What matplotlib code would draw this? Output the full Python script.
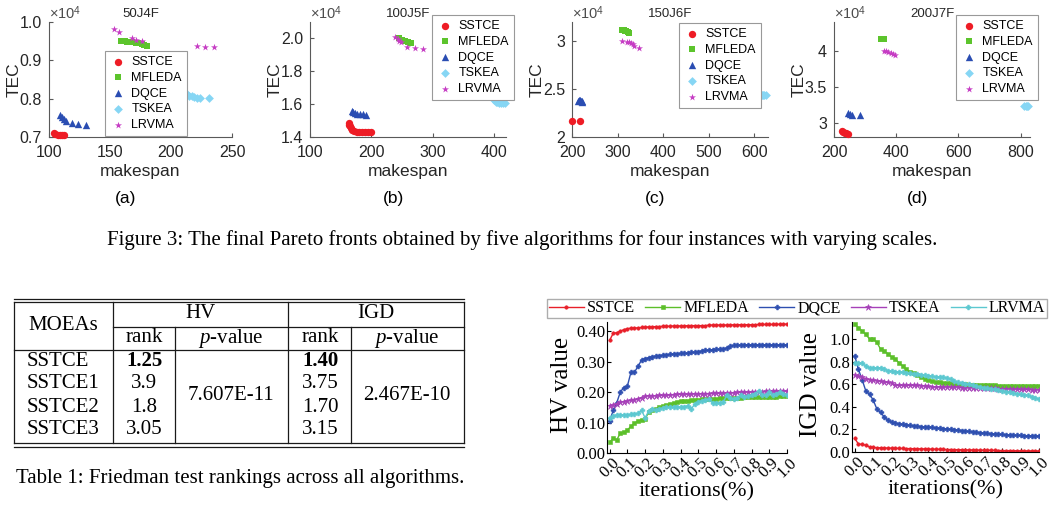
import numpy as np
import matplotlib.pyplot as plt
from matplotlib.lines import Line2D

plt.rcParams['mathtext.fontset'] = 'custom'
plt.rcParams['mathtext.rm'] = 'Liberation Sans'
plt.rcParams['mathtext.it'] = 'Liberation Serif:italic'

W, H = 1052, 514

# ---------------- Figure 3: final Pareto fronts (makespan, TEC) ----------------
algos = ["SSTCE", "MFLEDA", "DQCE", "TSKEA", "LRVMA"]
instances = ["50J4F", "100J5F", "150J6F", "200J7F"]
sub_tags = ["(a)", "(b)", "(c)", "(d)"]

a_sstce = [(104, 7110), (105, 7070), (107, 7050), (109, 7040), (111, 7040), (112, 7040)]
a_mfleda = [(159, 9510), (162, 9500), (164, 9490), (166, 9480), (168, 9470), (171, 9450),
            (173, 9440), (176, 9430), (178, 9400), (180, 9370)]
a_dqce = [(109, 7570), (111, 7530), (112, 7470), (114, 7410), (119, 7360), (124, 7350), (130, 7320)]
a_tskea = [(213, 8110), (215, 8080), (217, 8060), (219, 8040), (221, 8030), (224, 8030), (231, 8030)]
a_lrvma = [(153, 9820), (157, 9730), (168, 9580), (171, 9530), (176, 9500), (221, 9380),
           (228, 9360), (235, 9360)]

b_sstce = [(163, 14850), (164, 14750), (165, 14650), (167, 14550), (169, 14450), (172, 14350),
           (176, 14320), (180, 14300), (185, 14300), (190, 14300), (195, 14300), (199, 14300)]
b_mfleda = [(245, 20000), (250, 19900), (255, 19850), (260, 19800), (265, 19750)]
b_dqce = [(168, 15560), (170, 15500), (173, 15450), (177, 15420), (182, 15400), (187, 15400),
          (191, 15330)]
b_tskea = [(400, 16250), (403, 16150), (406, 16100), (409, 16080), (412, 16070), (415, 16060),
           (418, 16060)]
b_lrvma = [(239, 20100), (243, 19950), (246, 19850), (248, 19800), (258, 19450), (271, 19400),
           (284, 19370)]

c_sstce = [(201, 21700), (218, 21700)]
c_mfleda = [(310, 31200), (313, 31150), (316, 31100), (319, 31050), (322, 31000), (326, 30900)]
c_dqce = [(213, 23800), (215, 23850), (217, 23850), (219, 23800), (221, 23750), (223, 23700)]
c_tskea = [(610, 24400), (613, 24400), (616, 24400), (619, 24380), (622, 24380), (626, 24380)]
c_lrvma = [(309, 30000), (320, 29950), (326, 29950), (330, 29800), (333, 29700), (336, 29450),
           (346, 29280)]

d_sstce = [(225, 28800), (230, 28700), (235, 28600), (240, 28500), (245, 28450)]
d_mfleda = [(350, 41600), (355, 41600), (360, 41600)]
d_dqce = [(245, 31300), (250, 31200), (258, 31100), (285, 31050)]
d_tskea = [(812, 32300), (816, 32250), (820, 32250), (825, 32250)]
d_lrvma = [(360, 40000), (368, 39900), (375, 39800), (382, 39700), (390, 39600), (397, 39400)]

front_sets = [
    [a_sstce, a_mfleda, a_dqce, a_tskea, a_lrvma],
    [b_sstce, b_mfleda, b_dqce, b_tskea, b_lrvma],
    [c_sstce, c_mfleda, c_dqce, c_tskea, c_lrvma],
    [d_sstce, d_mfleda, d_dqce, d_tskea, d_lrvma],
]
x_limits = [(100, 250), (100, 420), (200, 630), (200, 830)]
y_limits = [(0.7, 1.0), (1.4, 2.1), (2.0, 3.2), (2.8, 4.4)]
x_ticks = [[100, 150, 200, 250], [100, 200, 300, 400], [200, 300, 400, 500, 600], [200, 400, 600, 800]]
y_ticks = [[0.7, 0.8, 0.9, 1.0], [1.4, 1.6, 1.8, 2.0], [2, 2.5, 3], [3, 3.5, 4]]
y_fmt = ["{:.1f}", "{:.1f}", "{:g}", "{:g}"]

# ---------------- Table 1: Friedman test ----------------
moeas = ["SSTCE", "SSTCE1", "SSTCE2", "SSTCE3"]
hv_rank = ["1.25", "3.9", "1.8", "3.05"]
igd_rank = ["1.40", "3.75", "1.70", "3.15"]
hv_p = "7.607E-11"
igd_p = "2.467E-10"

# ---------------- Convergence curves ----------------
iters = np.linspace(0, 1, 51)
line_names = ["SSTCE", "MFLEDA", "DQCE", "TSKEA", "LRVMA"]

hv_sstce = [0.370, 0.393, 0.395, 0.400, 0.405, 0.408, 0.410, 0.410, 0.411, 0.412, 0.413, 0.414,
            0.414, 0.415, 0.415, 0.416, 0.416, 0.416, 0.417, 0.417, 0.417, 0.417, 0.418, 0.418,
            0.418, 0.418, 0.418, 0.418, 0.420, 0.420, 0.420, 0.420, 0.420, 0.420, 0.420, 0.421,
            0.421, 0.421, 0.421, 0.421, 0.421, 0.421, 0.422, 0.422, 0.422, 0.422, 0.422, 0.422,
            0.423, 0.423, 0.423]
hv_mfleda = [0.035, 0.048, 0.043, 0.065, 0.068, 0.075, 0.088, 0.098, 0.105, 0.108, 0.110, 0.135,
             0.140, 0.145, 0.150, 0.153, 0.157, 0.160, 0.163, 0.168, 0.170, 0.172, 0.172, 0.173,
             0.174, 0.175, 0.176, 0.176, 0.177, 0.178, 0.178, 0.179, 0.180, 0.180, 0.181, 0.181,
             0.182, 0.182, 0.183, 0.183, 0.183, 0.184, 0.184, 0.184, 0.185, 0.185, 0.185, 0.185,
             0.186, 0.186, 0.186]
hv_dqce = [0.105, 0.140, 0.165, 0.200, 0.215, 0.220, 0.265, 0.265, 0.285, 0.305, 0.310, 0.313,
           0.316, 0.318, 0.320, 0.321, 0.322, 0.324, 0.325, 0.326, 0.327, 0.327, 0.328, 0.330,
           0.331, 0.333, 0.335, 0.337, 0.338, 0.339, 0.340, 0.340, 0.341, 0.345, 0.350, 0.353,
           0.354, 0.354, 0.355, 0.355, 0.355, 0.355, 0.355, 0.355, 0.355, 0.355, 0.355, 0.355,
           0.355, 0.355, 0.355]
hv_tskea = [0.155, 0.158, 0.162, 0.166, 0.169, 0.171, 0.173, 0.175, 0.178, 0.182, 0.186, 0.188,
            0.188, 0.188, 0.189, 0.189, 0.190, 0.190, 0.192, 0.193, 0.193, 0.193, 0.193, 0.194,
            0.194, 0.194, 0.195, 0.195, 0.195, 0.196, 0.196, 0.196, 0.197, 0.197, 0.198, 0.198,
            0.199, 0.199, 0.200, 0.200, 0.200, 0.201, 0.201, 0.201, 0.202, 0.202, 0.202, 0.202,
            0.203, 0.203, 0.203]
hv_lrvma = [0.115, 0.122, 0.125, 0.125, 0.125, 0.125, 0.127, 0.128, 0.130, 0.140, 0.115, 0.138,
            0.145, 0.140, 0.143, 0.148, 0.150, 0.150, 0.150, 0.152, 0.150, 0.152, 0.155, 0.145,
            0.160, 0.168, 0.172, 0.175, 0.176, 0.165, 0.165, 0.165, 0.166, 0.190, 0.180, 0.178,
            0.182, 0.190, 0.185, 0.188, 0.190, 0.195, 0.205, 0.190, 0.192, 0.200, 0.190, 0.195,
            0.200, 0.195, 0.190]

igd_sstce = [0.120, 0.070, 0.068, 0.060, 0.045, 0.040, 0.038, 0.037, 0.036, 0.035, 0.034, 0.033,
             0.032, 0.031, 0.030, 0.030, 0.029, 0.028, 0.028, 0.027, 0.026, 0.025, 0.025, 0.024,
             0.023, 0.022, 0.022, 0.021, 0.020, 0.020, 0.019, 0.018, 0.018, 0.017, 0.016, 0.016,
             0.015, 0.015, 0.014, 0.013, 0.013, 0.012, 0.012, 0.011, 0.011, 0.010, 0.010, 0.010,
             0.009, 0.009, 0.009]
igd_mfleda = [1.13, 1.10, 1.07, 1.04, 1.00, 1.00, 0.97, 0.91, 0.89, 0.87, 0.84, 0.82, 0.79, 0.76,
              0.73, 0.71, 0.70, 0.68, 0.66, 0.65, 0.64, 0.63, 0.62, 0.615, 0.612, 0.61, 0.607,
              0.605, 0.603, 0.600, 0.598, 0.596, 0.595, 0.594, 0.593, 0.592, 0.591, 0.590, 0.589,
              0.588, 0.587, 0.586, 0.585, 0.585, 0.584, 0.584, 0.583, 0.583, 0.582, 0.582, 0.582]
igd_dqce = [0.85, 0.73, 0.64, 0.54, 0.51, 0.46, 0.38, 0.35, 0.31, 0.28, 0.265, 0.255, 0.250,
            0.245, 0.240, 0.235, 0.232, 0.228, 0.225, 0.222, 0.220, 0.217, 0.214, 0.210, 0.207,
            0.205, 0.200, 0.197, 0.193, 0.190, 0.186, 0.182, 0.178, 0.175, 0.171, 0.168, 0.165,
            0.162, 0.160, 0.157, 0.155, 0.153, 0.151, 0.149, 0.147, 0.146, 0.145, 0.144, 0.143,
            0.142, 0.142]
igd_tskea = [0.68, 0.67, 0.66, 0.65, 0.64, 0.635, 0.63, 0.625, 0.62, 0.615, 0.61, 0.59, 0.59,
             0.59, 0.59, 0.59, 0.59, 0.59, 0.585, 0.585, 0.58, 0.575, 0.575, 0.575, 0.575, 0.575,
             0.575, 0.575, 0.575, 0.57, 0.57, 0.57, 0.57, 0.568, 0.566, 0.565, 0.564, 0.563,
             0.562, 0.561, 0.56, 0.559, 0.558, 0.557, 0.556, 0.555, 0.554, 0.553, 0.552, 0.551,
             0.55]
igd_lrvma = [0.79, 0.79, 0.785, 0.76, 0.745, 0.745, 0.745, 0.745, 0.735, 0.72, 0.715, 0.71, 0.71,
             0.705, 0.70, 0.695, 0.69, 0.69, 0.685, 0.68, 0.675, 0.67, 0.665, 0.665, 0.66, 0.655,
             0.645, 0.625, 0.615, 0.61, 0.605, 0.60, 0.59, 0.58, 0.575, 0.57, 0.565, 0.56, 0.555,
             0.55, 0.54, 0.535, 0.53, 0.52, 0.515, 0.51, 0.505, 0.50, 0.49, 0.48, 0.47]

hv_curves = [hv_sstce, hv_mfleda, hv_dqce, hv_tskea, hv_lrvma]
igd_curves = [igd_sstce, igd_mfleda, igd_dqce, igd_tskea, igd_lrvma]

# styles
sc_colors = ['#ee1c25', '#5cc42c', '#2a4db2', '#86d6f4', '#c63cc4']
sc_markers = ['o', 's', '^', 'D', '*']
sc_sizes = [28, 20, 28, 20, 28]
ln_colors = ['#e8202a', '#5cbf2a', '#2e4fb0', '#a640b8', '#5cc8d0']
ln_markers = ['o', 's', 'P', '*', 'P']
ln_msizes = [2.5, 2.5, 3.5, 4.5, 3.5]


def frac(l, t, r, b):
    return [l / W, 1 - b / H, (r - l) / W, (b - t) / H]


fig = plt.figure(figsize=(W / 100, H / 100), dpi=100)

# overlay in pixel coordinates for captions and the table
ov = fig.add_axes([0, 0, 1, 1])
ov.set_xlim(0, W)
ov.set_ylim(H, 0)
ov.set_axis_off()

top_boxes = [(49, 22, 232, 137), (310, 22, 506, 137), (572, 22, 768, 137), (834, 22, 1030, 137)]
leg_pos = [(105, 51), (432, 15), (679, 23), (956, 15)]
sans = 'Liberation Sans'
serif = 'Liberation Serif'

for k in range(4):
    ax = fig.add_axes(frac(*top_boxes[k]))
    for j, pts in enumerate(front_sets[k]):
        xs = [p[0] for p in pts]
        ys = [p[1] / 1e4 for p in pts]
        ax.scatter(xs, ys, s=sc_sizes[j], c=sc_colors[j], marker=sc_markers[j],
                   linewidths=0, label=algos[j], zorder=3, clip_on=False)
    ax.set_xlim(*x_limits[k])
    ax.set_ylim(*y_limits[k])
    ax.set_xticks(x_ticks[k])
    ax.set_yticks(y_ticks[k])
    ax.set_yticklabels([y_fmt[k].format(v) for v in y_ticks[k]])
    for sp in ['top', 'right']:
        ax.spines[sp].set_visible(False)
    for sp in ['left', 'bottom']:
        ax.spines[sp].set_color('0.35')
        ax.spines[sp].set_linewidth(0.8)
    ax.tick_params(direction='in', length=3, color='0.35', labelsize=11.5, labelcolor='0.15')
    ax.tick_params(axis='x', pad=6)
    ax.tick_params(axis='y', pad=5)
    for lab in ax.get_xticklabels() + ax.get_yticklabels():
        lab.set_family(sans)
    ax.set_xlabel("makespan", family=sans, fontsize=12.5, color='0.15')
    ax.set_ylabel("TEC", family=sans, fontsize=12.5, color='0.15')
    ax.xaxis.set_label_coords(0.5, -0.235)
    ax.yaxis.set_label_coords(-0.15 * 183 / (top_boxes[k][2] - top_boxes[k][0]), 0.5)
    ax.text(0.5, 1.02, instances[k], transform=ax.transAxes, ha='center', va='bottom',
            family=sans, fontsize=9.5, color='0.15')
    ax.text(0.0, 1.0, r'$\times10^4$', transform=ax.transAxes, ha='left', va='bottom',
            fontsize=10.5, color='0.3')
    lx, ly = leg_pos[k]
    leg = ax.legend(loc='upper left', bbox_to_anchor=(lx / W, 1 - ly / H),
                    bbox_transform=fig.transFigure, prop={'family': sans, 'size': 9},
                    frameon=True, fancybox=False, framealpha=1, edgecolor='0.6',
                    handletextpad=0.5, handlelength=1.2, labelspacing=0.3, borderpad=0.4,
                    borderaxespad=0)
    leg.get_frame().set_linewidth(0.8)
    cx = (top_boxes[k][0] + top_boxes[k][2]) / 2 - 15
    ov.text(cx, 198, sub_tags[k], ha='center', va='center', family=sans, fontsize=12.5)

ov.text(522, 240, "Figure 3: The final Pareto fronts obtained by five algorithms for four instances with varying scales.",
        ha='center', va='center', family=serif, fontsize=15)

# ---- table ----
lc = '0.1'
lw = 0.9
ov.plot([14, 464], [299, 299], color=lc, lw=lw)
ov.plot([14, 464], [302, 302], color=lc, lw=lw)
ov.plot([14, 464], [443, 443], color=lc, lw=lw)
ov.plot([14, 464], [447, 447], color=lc, lw=lw)
ov.plot([113, 464], [327, 327], color=lc, lw=lw)
ov.plot([14, 464], [350, 350], color=lc, lw=lw)
for xv in [14, 113, 288, 464]:
    ov.plot([xv, xv], [302, 443], color=lc, lw=lw)
for xv in [175, 351]:
    ov.plot([xv, xv], [327, 443], color=lc, lw=lw)

tf = 15
ov.text(63, 326, "MOEAs", ha='center', va='center', family=serif, fontsize=tf)
ov.text(200, 314, "HV", ha='center', va='center', family=serif, fontsize=tf)
ov.text(376, 314, "IGD", ha='center', va='center', family=serif, fontsize=tf)
for xr, xp in [(144, 231), (320, 407)]:
    ov.text(xr, 338, "rank", ha='center', va='center', family=serif, fontsize=tf)
    ov.text(xp, 338, r"$p$-value", ha='center', va='center', family=serif, fontsize=tf)
row_y = [361, 384, 407, 430]
for i in range(4):
    ov.text(27, row_y[i], moeas[i], ha='left', va='center', family=serif, fontsize=tf)
    wt = 'bold' if i == 0 else 'normal'
    ov.text(144, row_y[i], hv_rank[i], ha='center', va='center', family=serif, fontsize=tf, weight=wt)
    ov.text(320, row_y[i], igd_rank[i], ha='center', va='center', family=serif, fontsize=tf, weight=wt)
ov.text(231, 396, hv_p, ha='center', va='center', family=serif, fontsize=tf)
ov.text(407, 396, igd_p, ha='center', va='center', family=serif, fontsize=tf)
ov.text(240, 479, "Table 1: Friedman test rankings across all algorithms.",
        ha='center', va='center', family=serif, fontsize=15)

# ---- convergence plots ----
ax_hv = fig.add_axes(frac(607, 322, 787, 453))
ax_igd = fig.add_axes(frac(852, 322, 1039, 452))
for ax, curves, ylab, ylim, yt, fmt, lx in [
        (ax_hv, hv_curves, "HV value", (0, 0.43), [0, 0.1, 0.2, 0.3, 0.4], "{:.2f}", -0.19),
        (ax_igd, igd_curves, "IGD value", (0, 1.15), [0, 0.2, 0.4, 0.6, 0.8, 1.0], "{:.1f}", -0.16)]:
    for j, vals in enumerate(curves):
        ax.plot(iters, vals, color=ln_colors[j], marker=ln_markers[j], ms=ln_msizes[j],
                lw=1.0, mew=0.4, label=line_names[j])
    ax.set_xlim(-0.015, 1.0)
    ax.set_ylim(*ylim)
    ax.set_yticks(yt)
    ax.set_yticklabels([fmt.format(v) for v in yt], family=serif, fontsize=12)
    xt = np.round(np.arange(0, 1.01, 0.1), 1)
    ax.set_xticks(xt)
    ax.set_xticklabels(["{:.1f}".format(v) for v in xt], family=serif, fontsize=12,
                       rotation=45, ha='center')
    for sp in ['top', 'right']:
        ax.spines[sp].set_visible(False)
    ax.tick_params(direction='in', length=3, pad=1)
    ax.set_ylabel(ylab, family=serif, fontsize=18)
    ax.yaxis.set_label_coords(lx, 0.52)
    ax.set_xlabel("iterations(%)", family=serif, fontsize=16)
    ax.xaxis.set_label_coords(0.5, -0.22)

handles = [Line2D([], [], color=ln_colors[j], marker=ln_markers[j], ms=ln_msizes[j], lw=1.0,
                  mew=0.4) for j in range(5)]
fig.legend(handles, line_names, loc='center', ncol=5, mode='expand',
           bbox_to_anchor=(547 / W, 1 - 317 / H, 500 / W, 17 / H), borderaxespad=0,
           prop={'family': serif, 'size': 11.5}, frameon=True, fancybox=False,
           edgecolor='0.6', handlelength=2.2, handletextpad=0.2, columnspacing=0.4,
           borderpad=0.1)

fig.savefig("out.png", dpi=100)
